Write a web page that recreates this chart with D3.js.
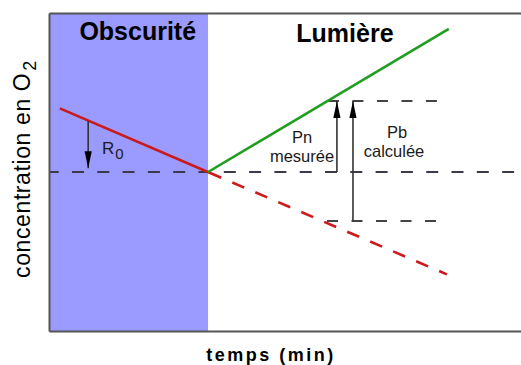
<!DOCTYPE html>
<html>
<head>
<meta charset="utf-8">
<script src="https://cdn.jsdelivr.net/npm/d3@7"></script>
<style>
  html, body { margin: 0; padding: 0; background: #fff; }
  svg { display: block; font-family: "Liberation Sans", Arial, Helvetica, sans-serif; }
</style>
</head>
<body>
<svg id="chart" width="521" height="365"></svg>
<script>
// ---- data (time in arbitrary units 0..100, O2 concentration in arbitrary units 0..100)
const phaseLabels = ["Obscurité", "Lumière"];
const phaseLabelT = [18.8, 62.7];
const darkPhase = [0, 33.7];
const refLevel = 50;

const respSolidT = [2.3, 36.5];
const respSolidC = [70, 48.2];
const respDashT = [36.5, 84.3];
const respDashC = [48.2, 17.8];

const photoT = [33.7, 84.7];
const photoC = [50, 95];

const pnLevelT = [59.1, 82.9];
const pnLevelC = 72.3;
const pbLevelT = [58.9, 82.9];
const pbLevelC = 34.6;

const arrowNames = ["R0", "Pn", "Pb"];
const arrowT = [8.3, 61.0, 64.4];
const arrowFrom = [66.0, 50.0, 34.6];
const arrowTo = [51.2, 72.3, 72.3];

const yTitle = "concentration en O";
const yTitleSub = "2";
const xTitle = "temps (min)";

// ---- layout
const svg = d3.select("#chart");
const mLeft = 49, mRight = 521, mTop = 13, mBottom = 331;
const x = d3.scaleLinear().domain([0, 100]).range([mLeft, mRight]);
const y = d3.scaleLinear().domain([0, 100]).range([mBottom, mTop]);

// dark phase background
svg.append("rect")
  .attr("x", x(darkPhase[0])).attr("y", y(100))
  .attr("width", x(darkPhase[1]) - x(darkPhase[0]))
  .attr("height", y(0) - y(100))
  .attr("fill", "#9a9aff");

// defs: arrowhead
svg.append("defs").append("marker")
  .attr("id", "head")
  .attr("viewBox", "0 -4 17 8")
  .attr("refX", 17).attr("refY", 0)
  .attr("markerWidth", 17).attr("markerHeight", 8)
  .attr("markerUnits", "userSpaceOnUse")
  .attr("orient", "auto")
  .append("path").attr("d", "M0,-3.6L17,0L0,3.6Z").attr("fill", "#000");

const line = d3.line().x(d => x(d[0])).y(d => y(d[1]));

// reference dashed level
svg.append("path")
  .attr("d", line([[0, refLevel], [100, refLevel]]))
  .attr("stroke", "#3a3a4a").attr("stroke-width", 2).attr("fill", "none")
  .attr("stroke-dasharray", "12,13.3").attr("stroke-dashoffset", 2.3);

// Pn / Pb levels
svg.append("path")
  .attr("d", line([[pnLevelT[0], pnLevelC], [pnLevelT[1], pnLevelC]]))
  .attr("stroke", "#444").attr("stroke-width", 2).attr("fill", "none")
  .attr("stroke-dasharray", "11,13.5");
svg.append("path")
  .attr("d", line([[pbLevelT[0], pbLevelC], [pbLevelT[1], pbLevelC]]))
  .attr("stroke", "#444").attr("stroke-width", 2).attr("fill", "none")
  .attr("stroke-dasharray", "11,13.5");

// respiration (red)
svg.append("path")
  .attr("d", line(respSolidT.map((t, i) => [t, respSolidC[i]])))
  .attr("stroke", "#cc1a1a").attr("stroke-width", 2.6).attr("fill", "none");
svg.append("path")
  .attr("d", line(respDashT.map((t, i) => [t, respDashC[i]])))
  .attr("stroke", "#cc1a1a").attr("stroke-width", 2.6).attr("fill", "none")
  .attr("stroke-dasharray", "13,12").attr("stroke-dashoffset", 25 - 12);

// photosynthesis (green)
svg.append("path")
  .attr("d", line(photoT.map((t, i) => [t, photoC[i]])))
  .attr("stroke", "#1f9e1f").attr("stroke-width", 2.6).attr("fill", "none");

// arrows
arrowNames.forEach((n, i) => {
  svg.append("line")
    .attr("x1", x(arrowT[i])).attr("x2", x(arrowT[i]))
    .attr("y1", y(arrowFrom[i])).attr("y2", y(arrowTo[i]))
    .attr("stroke", "#333").attr("stroke-width", 1.6)
    .attr("marker-end", "url(#head)");
});

// frame axes
svg.append("g").attr("transform", `translate(0,${mBottom})`)
  .call(d3.axisBottom(x).tickValues([]).tickSizeOuter(0));
svg.append("g").attr("transform", `translate(0,${mTop})`)
  .call(d3.axisTop(x).tickValues([]).tickSizeOuter(0));
svg.append("g").attr("transform", `translate(${mLeft},0)`)
  .call(d3.axisLeft(y).tickValues([]).tickSizeOuter(0));
svg.selectAll(".domain").attr("stroke", "#555").attr("stroke-width", 2);

// phase titles
phaseLabels.forEach((p, i) => {
  svg.append("text")
    .attr("x", x(phaseLabelT[i])).attr("y", i === 0 ? 40 : 42)
    .attr("text-anchor", "middle")
    .attr("font-size", 25).attr("font-weight", "bold").attr("fill", "#000")
    .text(p);
});

// annotation labels
const small = (tx, ty, s) => svg.append("text")
  .attr("x", tx).attr("y", ty).attr("text-anchor", "middle")
  .attr("font-size", 16.5).attr("fill", "#1a1a1a").text(s);
small(302, 143, "Pn");
small(302, 162, "mesurée");
small(397, 138, "Pb");
small(394, 157, "calculée");

const r0 = svg.append("text").attr("x", 102).attr("y", 154)
  .attr("font-size", 17).attr("fill", "#1a1a1a");
r0.append("tspan").text("R");
r0.append("tspan").attr("dy", 5).attr("dx", 1).attr("font-size", 15).text("0");

// axis titles
const yt = svg.append("text")
  .attr("transform", "translate(30,169) rotate(-90)")
  .attr("text-anchor", "middle")
  .attr("font-size", 23).attr("fill", "#000").attr("letter-spacing", 0.6);
yt.append("tspan").text(yTitle);
yt.append("tspan").attr("dy", 6).attr("dx", 2).attr("font-size", 18).text(yTitleSub);

svg.append("text")
  .attr("x", 271).attr("y", 361)
  .attr("text-anchor", "middle")
  .attr("font-size", 18).attr("font-weight", "bold")
  .attr("letter-spacing", 2.5).attr("fill", "#000")
  .text(xTitle);
</script>
</body>
</html>
